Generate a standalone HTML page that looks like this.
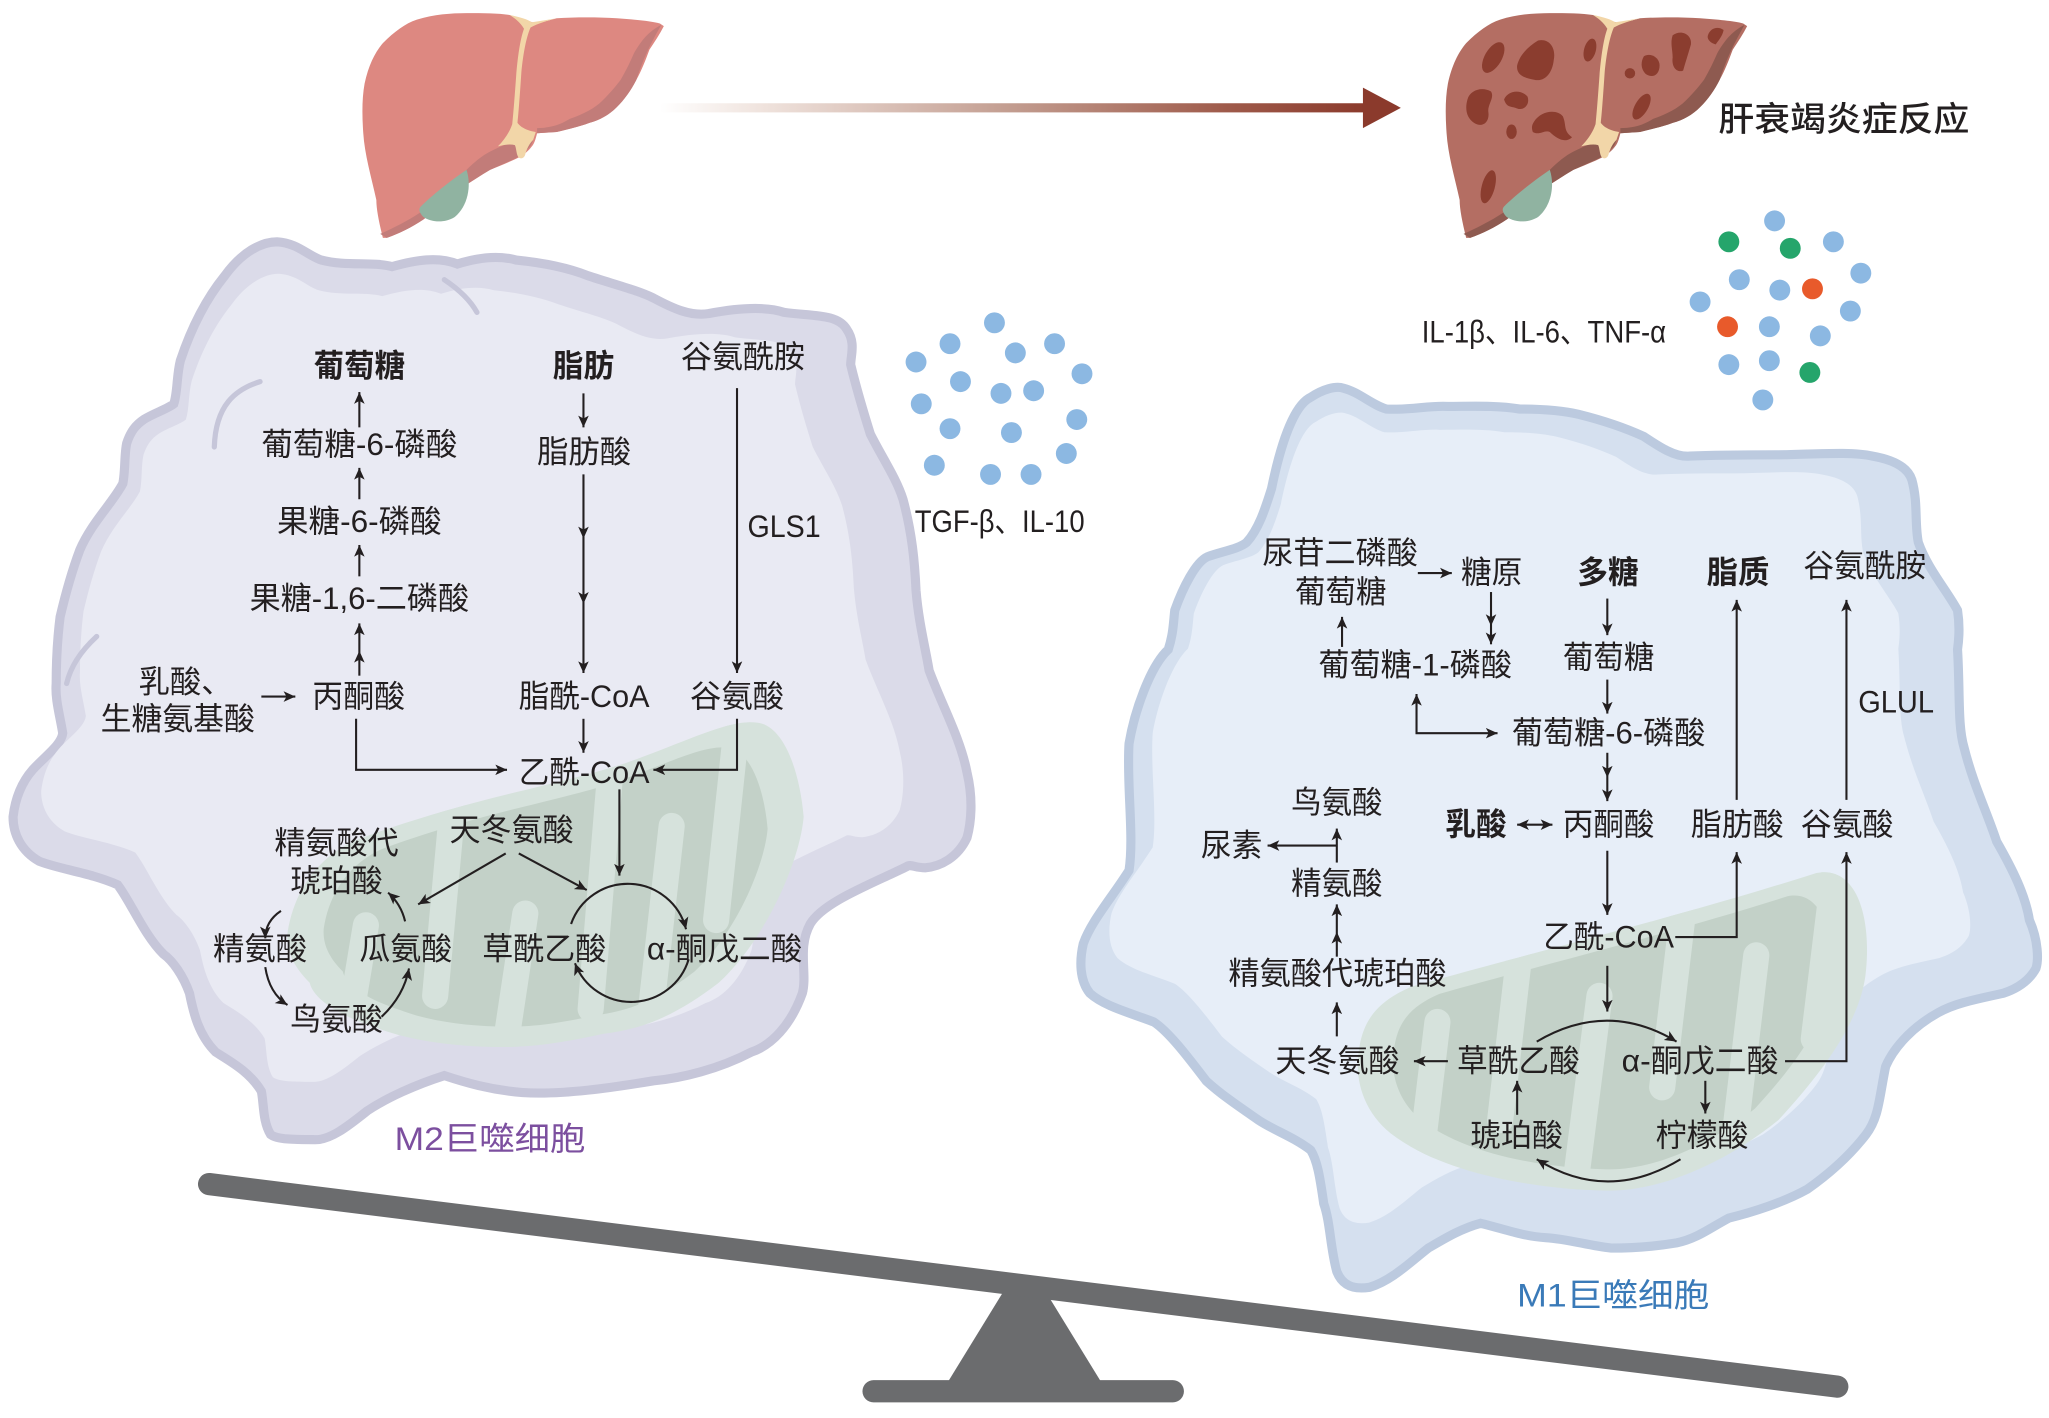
<!DOCTYPE html>
<html><head><meta charset="utf-8"><style>
html,body{margin:0;padding:0;background:#fff;}
svg{display:block;}
.t{font-family:"Liberation Sans","Noto Sans CJK SC",sans-serif;font-size:24px;fill:#231f20;dominant-baseline:central;}
.b{font-weight:bold;}
.ln{fill:none;stroke:#231f20;stroke-width:1.6;}
</style></head><body>
<svg width="2049" height="1418" viewBox="0 0 1568 1085" preserveAspectRatio="none" xmlns="http://www.w3.org/2000/svg">
<defs>
<marker id="ah" viewBox="0 0 10 10" refX="10" refY="5" markerWidth="9" markerHeight="9" orient="auto-start-reverse" markerUnits="userSpaceOnUse"><path d="M0,0.5 L10,5 L0,9.5 L2.5,5 Z" fill="#231f20"/></marker>
<linearGradient id="ga" x1="505" y1="0" x2="1045" y2="0" gradientUnits="userSpaceOnUse">
<stop offset="0" stop-color="#ffffff"/><stop offset="0.15" stop-color="#efe2dc"/><stop offset="0.5" stop-color="#c29c8f"/><stop offset="0.8" stop-color="#9f5b4b"/><stop offset="1" stop-color="#8b3a2c"/>
</linearGradient>
<path id="liver" d="M293,182 C290,170 288,160 288,153 C284,135 279,118 278,102 C277,88 277,75 279,64 C282,50 287,40 293,33 C302,24 310,18 319,15 C332,11 345,10 357,10 C370,10 382,10 390,11.5 L400,15 L411,18 L426,14 C440,13 458,13 472,14 C485,15 498,16 505,18 L508,20 C505,26 501,32 497,38 C494,46 491,54 487,61 C483,69 478,76 472,82 C466,88 459,92 451,94 C443,97 434,99 426,101 L411,102 C410,106 409,110 407,112 C404,116 401,118 398,120 C390,124 382,127 375,130 C368,134 361,139 354,143 C350,146 347,150 344,153 C337,158 330,163 324,168 C315,174 305,179 296,182 Z"/>
<path id="ldark1" d="M506,19 C500,30 494,40 487,61 C483,69 478,76 472,82 C466,88 459,92 451,94 C443,97 434,99 426,101 L411,102 L411,98 C420,98 428,96 436,91 C447,87 455,83 461,77 C468,70 472,65 475,61 C479,54 482,48 485,41 C490,32 496,24 506,19 Z"/>
<path id="ldark2" d="M291,179 C300,175 312,169 321,163 C335,152 347,140 357,130 C363,124 369,119 375,116 C383,112 390,109 396,107 L408,107 C407,110 406,112 405,113 C401,117 398,119 395,121 L375,130 C368,134 361,139 354,143 C350,146 347,150 344,153 C337,158 330,163 324,168 C315,174 305,179 296,182 Z"/>
<path id="lig" d="M390,11.5 C398,13 404,15 407,17 C414,16 420,15 426,14 C418,16 412,18 406,21 C402,30 400,45 399,55 C398,70 397,85 396,94 C399,98 404,100 410,101 L408,107 C405,110 403,114 402,118 C401,122 397,122 396,119 C395,116 395,113 394,111 C390,110 385,111 381,112 C386,107 390,101 392,95 C393,85 394,72 395,58 C396,45 398,30 401,22 C398,17 394,14 390,11.5 Z"/>
<path id="gall" d="M357,130 C361,142 358,158 348,166 C340,171 330,170 324,166 C321,163 320,160 322,158 C330,150 345,138 357,130 Z"/>
<path id="lcell" d="M172,211 C185,193 200,185 212,185 C228,186 236,196 246,199 C265,204 285,200 300,204 C318,199 335,196 350,202 C366,197 381,195 395,199 C415,201 435,205 450,211 C468,217 488,222 500,228 C515,236 528,242 542,240 C563,236 585,234 600,239 C622,242 641,240 648,252 C655,262 651,272 651,279 C656,300 661,316 666,332 C675,350 686,366 691,382 C698,408 700,430 701,452 C703,476 708,495 711,513 C721,540 735,565 740,591 C745,612 743,630 740,641 C733,656 720,663 708,664 C700,664 697,661 694,663 C668,676 630,690 620,707 C610,725 618,745 614,760 C605,785 590,800 575,805 C550,818 522,825 500,827 C470,832 430,838 400,836 C375,834 355,828 340,823 C318,830 296,840 281,850 C266,862 252,873 240,872 C226,872 212,872 207,868 C201,858 202,845 200,835 C191,820 176,812 165,805 C152,792 148,775 145,760 C140,746 132,735 125,730 C110,715 100,690 90,677 C70,668 45,665 30,659 C16,651 10,638 10,625 C12,608 18,597 25,589 C35,578 47,570 48,561 C46,548 42,535 43,523 C43,505 44,488 46,472 C50,455 55,437 61,421 C70,400 86,385 94,370 C96,360 95,348 97,339 C100,330 104,325 110,321 C118,316 128,313 133,309 C136,300 135,288 138,276 C145,255 155,232 172,211 Z"/>
<path id="rcell" d="M973,374 C980,340 990,310 1003,304 C1012,298 1022,295 1028,297 C1040,300 1050,310 1061,313 C1078,314 1095,310 1108,311 C1125,311 1145,310 1163,313 C1180,313 1195,314 1208,317 C1228,322 1245,328 1258,334 C1270,342 1282,350 1293,349 C1315,348 1338,348 1358,348 C1385,348 1415,345 1433,349 C1450,352 1460,358 1463,367 C1468,385 1465,400 1468,415 C1475,435 1490,452 1498,467 C1500,480 1499,490 1498,497 C1500,530 1498,555 1503,572 C1510,600 1520,620 1528,644 C1540,665 1550,685 1553,704 C1560,720 1560,735 1558,741 C1552,752 1542,757 1533,760 C1510,765 1495,768 1483,775 C1465,785 1450,800 1443,816 C1438,840 1438,855 1428,868 C1415,885 1400,898 1383,910 C1365,920 1340,928 1323,932 C1308,940 1298,948 1283,951 C1265,954 1250,955 1233,955 C1215,953 1200,948 1183,947 C1165,946 1150,940 1133,936 C1118,940 1105,948 1093,955 C1080,965 1065,980 1048,985 C1035,987 1027,983 1023,973 C1018,955 1018,935 1013,921 C1010,900 1008,888 1003,880 C990,870 975,865 963,857 C950,848 935,838 923,827 C910,810 895,790 883,782 C865,775 845,770 834,760 C826,750 826,735 829,722 C835,705 850,688 864,666 C868,640 862,600 864,569 C868,545 880,510 894,497 C898,485 898,475 899,467 C905,450 915,430 924,426 C935,422 948,420 954,415 C963,405 968,390 973,374 Z"/>
<path id="lmito" d="M220,714 C225,680 245,655 272,643 C320,625 370,612 404,604 C440,595 470,588 492,579 C530,565 560,550 580,553 C600,556 612,590 615,625 C612,660 585,720 550,752 C520,775 495,787 462,791 C430,798 405,802 375,801 C340,800 310,795 287,786 C260,777 240,765 237,752 C225,740 219,728 220,714 Z"/>
<path id="rmito" d="M1039,815 C1040,785 1050,768 1080,755 C1150,735 1290,700 1390,668 C1420,662 1432,700 1428,742 C1425,780 1395,820 1361,857 C1320,890 1270,912 1229,911 C1180,910 1110,900 1068,870 C1048,856 1039,835 1039,815 Z"/>
<clipPath id="clm"><use href="#lmito"/></clipPath>
<clipPath id="crm"><use href="#rmito"/></clipPath>
</defs>

<!-- Healthy liver -->
<use href="#liver" fill="#dd8881"/>
<use href="#ldark1" fill="#c27c79"/>
<use href="#ldark2" fill="#c27c79"/>
<use href="#lig" fill="#f2d6a8"/>
<use href="#gall" fill="#90b3a1"/>

<!-- Diseased liver -->
<g transform="translate(829,0)">
<use href="#liver" fill="#b46e63"/>
<use href="#ldark1" fill="#8e5a50"/>
<use href="#ldark2" fill="#8e5a50"/>
<use href="#lig" fill="#f2d6a8"/>
<use href="#gall" fill="#90b3a1"/>
<g fill="#8b3d2f">
<ellipse cx="313.7" cy="44" rx="6.5" ry="13" transform="rotate(30 313.7 44)"/>
<path d="M332,50 C334,42 340,36 348,31 C356,29 362,36 360,46 C359,56 353,63 345,61 C339,60 331,58 332,50 Z"/>
<ellipse cx="387.7" cy="38.3" rx="4.5" ry="9" transform="rotate(15 387.7 38.3)"/>
<path d="M294,76 C296,69 305,66 312,70 C315,75 309,80 310,86 C311,94 305,98 299,94 C293,90 292,83 294,76 Z"/>
<path d="M322,76 C325,69 335,68 340,74 C342,80 337,85 332,83 C328,81 324,83 322,76 Z"/>
<path d="M345,93 C350,85 362,83 367,89 C370,96 367,100 374,105 C369,110 362,106 357,101 C353,99 349,104 344,101 C343,98 343,96 345,93 Z"/>
<ellipse cx="327.7" cy="100.8" rx="4" ry="5.5"/>
<ellipse cx="309.9" cy="142.9" rx="5" ry="13" transform="rotate(15 309.9 142.9)"/>
<circle cx="418.3" cy="56.1" r="4"/>
<path d="M429,43 C434,40 441,44 441,50 C441,57 436,60 431,57 C427,54 426,48 429,43 Z"/>
<path d="M451,27 C458,22 466,27 465,34 C463,41 461,47 459,54 C454,56 450,51 451,44 C451,38 449,33 451,27 Z"/>
<path d="M478,27 C480,21 486,20 490,23 C489,28 486,31 484,34 C480,33 477,30 478,27 Z"/>
<ellipse cx="427.2" cy="81.6" rx="5" ry="11" transform="rotate(30 427.2 81.6)"/>
</g>
</g>

<!-- gradient arrow -->
<rect x="505" y="79" width="540" height="7" fill="url(#ga)"/>
<polygon points="1043,67 1072,82.5 1043,98" fill="#8b3a2c"/>

<text class="t" x="1315" y="92" textLength="192" lengthAdjust="spacingAndGlyphs" style="font-size:26px;font-weight:500">肝衰竭炎症反应</text>

<!-- cytokine dots left -->
<g fill="#8cb8e2">
<circle cx="761" cy="247" r="8"/><circle cx="727" cy="263" r="8"/><circle cx="777" cy="270" r="8"/><circle cx="807" cy="263" r="8"/>
<circle cx="701" cy="277" r="8"/><circle cx="828" cy="286" r="8"/><circle cx="735" cy="292" r="8"/><circle cx="766" cy="301" r="8"/>
<circle cx="791" cy="299" r="8"/><circle cx="705" cy="309" r="8"/><circle cx="824" cy="321" r="8"/><circle cx="727" cy="328" r="8"/>
<circle cx="774" cy="331" r="8"/><circle cx="816" cy="347" r="8"/><circle cx="715" cy="356" r="8"/><circle cx="758" cy="363" r="8"/><circle cx="789" cy="363" r="8"/>
</g>
<text class="t" x="700" y="399" textLength="130" lengthAdjust="spacingAndGlyphs">TGF-β、IL-10</text>

<!-- cytokine dots right -->
<g fill="#8cb8e2">
<circle cx="1358" cy="169" r="8"/><circle cx="1403" cy="185" r="8"/><circle cx="1424" cy="209" r="8"/><circle cx="1331" cy="214" r="8"/>
<circle cx="1362" cy="222" r="8"/><circle cx="1416" cy="238" r="8"/><circle cx="1301" cy="231" r="8"/><circle cx="1354" cy="250" r="8"/>
<circle cx="1393" cy="257" r="8"/><circle cx="1323" cy="279" r="8"/><circle cx="1354" cy="276" r="8"/><circle cx="1349" cy="306" r="8"/>
</g>
<g fill="#25a56b"><circle cx="1323" cy="185" r="8"/><circle cx="1370" cy="190" r="8"/><circle cx="1385" cy="285" r="8"/></g>
<g fill="#e85a2b"><circle cx="1387" cy="221" r="8"/><circle cx="1322" cy="250" r="8"/></g>
<text class="t" x="1088" y="254" textLength="187" lengthAdjust="spacingAndGlyphs">IL-1β、IL-6、TNF-α</text>

<!-- Left cell -->
<use href="#lcell" fill="#dbdbe9" stroke="#c6c6d9" stroke-width="7"/>
<use href="#lcell" fill="#e9eaf3" transform="translate(360,520) scale(0.9) translate(-375,-530)"/>
<path d="M199,292 C180,298 165,310 164,342" fill="none" stroke="#c6c6d9" stroke-width="4" stroke-linecap="round"/>
<path d="M74,487 C62,498 54,510 51,523" fill="none" stroke="#c6c6d9" stroke-width="4" stroke-linecap="round"/>
<path d="M340,214 C352,222 360,230 365,239" fill="none" stroke="#c6c6d9" stroke-width="4" stroke-linecap="round"/>

<!-- Right cell -->
<use href="#rcell" fill="#d5e0ef" stroke="#bccadf" stroke-width="7"/>
<use href="#rcell" fill="#e7eef8" transform="translate(1180,625) scale(0.9) translate(-1195,-640)"/>

<!-- Left mito -->
<use href="#lmito" fill="#d6e2dc"/>
<use href="#lmito" fill="#c3d1c8" transform="translate(418,690) scale(0.86) translate(-418,-690)"/>
<g clip-path="url(#clm)" stroke="#d6e2dc" stroke-width="20" stroke-linecap="round" fill="none">
<path d="M258,840 L280,708"/>
<path d="M352,555 L333,762"/>
<path d="M380,845 L402,699"/>
<path d="M470,555 L452,772"/>
<path d="M490,845 L514,632"/>
<path d="M566,535 L548,704"/>
</g>

<!-- Right mito -->
<use href="#rmito" fill="#d6e2dc"/>
<use href="#rmito" fill="#c3d1c8" transform="translate(1232,795) scale(0.86) translate(-1232,-795)"/>
<g clip-path="url(#crm)" stroke="#d6e2dc" stroke-width="20" stroke-linecap="round" fill="none">
<path d="M1078,965 L1100,782"/>
<path d="M1172,650 L1148,857"/>
<path d="M1198,965 L1224,762"/>
<path d="M1296,630 L1272,832"/>
<path d="M1316,965 L1344,731"/>
<path d="M1410,615 L1388,795"/>
</g>

<!-- Left cell connectors -->
<g class="ln" marker-end="url(#ah)">
<line x1="275" y1="327" x2="275" y2="300"/>
<line x1="275" y1="382" x2="275" y2="358"/>
<line x1="275" y1="441" x2="275" y2="417"/>
<polyline points="275,517 275,498 275,477" marker-mid="url(#ah)"/>
<line x1="446.5" y1="301" x2="446.5" y2="327"/>
<polyline points="446.5,363 446.5,412 446.5,462 446.5,515" marker-mid="url(#ah)"/>
<line x1="564" y1="297" x2="564" y2="515"/>
<line x1="200" y1="533" x2="226" y2="533"/>
<polyline points="272.5,550 272.5,589 388,589"/>
<line x1="446.5" y1="550" x2="446.5" y2="576"/>
<polyline points="564,550 564,589 500,589"/>
<line x1="474" y1="604" x2="474" y2="670"/>
<line x1="387" y1="653" x2="320" y2="692"/>
<line x1="397" y1="653" x2="449" y2="681"/>
<path d="M437,707 A46,46 0 0 1 525,711"/>
<path d="M527,734 A46,46 0 0 1 440,737"/>
<path d="M215,697 Q203,705 203,718"/>
<path d="M203,740 Q206,760 220,769"/>
<path d="M292,778 Q309,762 313,741"/>
<path d="M310,705 Q307,692 297,683"/>
</g>

<!-- Right cell connectors -->
<g class="ln" marker-end="url(#ah)">
<line x1="1085" y1="438.5" x2="1111" y2="438.5"/>
<polyline points="1141,453 1141,479 1141,493" marker-mid="url(#ah)"/>
<line x1="1027" y1="495" x2="1027" y2="472"/>
<line x1="1230" y1="458" x2="1230" y2="486"/>
<line x1="1230" y1="520" x2="1230" y2="546"/>
<path d="M1084,531 L1084,561 L1146,561" marker-start="url(#ah)"/>
<polyline points="1230,576 1230,595 1230,613" marker-mid="url(#ah)"/>
<line x1="1161" y1="631" x2="1188" y2="631" marker-start="url(#ah)"/>
<line x1="1230" y1="651" x2="1230" y2="700"/>
<polyline points="1282,717 1329,717 1329,652"/>
<line x1="1329" y1="612" x2="1329" y2="459"/>
<line x1="1413" y1="612" x2="1413" y2="459"/>
<polyline points="1366,812 1413,812 1413,652"/>
<line x1="1230" y1="739" x2="1230" y2="774"/>
<path d="M1176,797 Q1230,765 1283,797"/>
<line x1="1108" y1="812" x2="1082" y2="812"/>
<line x1="1023" y1="793" x2="1023" y2="767"/>
<polyline points="1023,732 1023,713 1023,692" marker-mid="url(#ah)"/>
<line x1="1023" y1="660" x2="1023" y2="634"/>
<polyline points="1023,647 970,647" marker-end="url(#ah)"/>
<line x1="1305" y1="827" x2="1305" y2="852"/>
<line x1="1161" y1="853" x2="1161" y2="827"/>
<path d="M1286,887 Q1230,921 1176,887"/>
</g>

<!-- Left cell labels -->
<text class="t b" x="240" y="280" textLength="70" lengthAdjust="spacingAndGlyphs">葡萄糖</text>
<text class="t" x="200" y="340" textLength="150" lengthAdjust="spacingAndGlyphs">葡萄糖-6-磷酸</text>
<text class="t" x="212" y="399" textLength="126" lengthAdjust="spacingAndGlyphs">果糖-6-磷酸</text>
<text class="t" x="191" y="458" textLength="168" lengthAdjust="spacingAndGlyphs">果糖-1,6-二磷酸</text>
<text class="t" x="106" y="522">乳酸、</text>
<text class="t" x="77" y="550" textLength="118" lengthAdjust="spacingAndGlyphs">生糖氨基酸</text>
<text class="t" x="239" y="533" textLength="71" lengthAdjust="spacingAndGlyphs">丙酮酸</text>
<text class="t b" x="423" y="280" textLength="47" lengthAdjust="spacingAndGlyphs">脂肪</text>
<text class="t" x="411" y="346" textLength="72" lengthAdjust="spacingAndGlyphs">脂肪酸</text>
<text class="t" x="397" y="533" textLength="100" lengthAdjust="spacingAndGlyphs">脂酰-CoA</text>
<text class="t" x="521" y="273" textLength="95" lengthAdjust="spacingAndGlyphs">谷氨酰胺</text>
<text class="t" x="572" y="403" textLength="56" lengthAdjust="spacingAndGlyphs">GLS1</text>
<text class="t" x="528" y="533" textLength="72" lengthAdjust="spacingAndGlyphs">谷氨酸</text>
<text class="t" x="397" y="591" textLength="100" lengthAdjust="spacingAndGlyphs">乙酰-CoA</text>
<text class="t" x="344" y="635" textLength="95" lengthAdjust="spacingAndGlyphs">天冬氨酸</text>
<text class="t" x="210" y="645" textLength="95" lengthAdjust="spacingAndGlyphs">精氨酸代</text>
<text class="t" x="222" y="674" textLength="71" lengthAdjust="spacingAndGlyphs">琥珀酸</text>
<text class="t" x="163" y="726" textLength="72" lengthAdjust="spacingAndGlyphs">精氨酸</text>
<text class="t" x="275" y="726" textLength="71" lengthAdjust="spacingAndGlyphs">瓜氨酸</text>
<text class="t" x="369" y="726" textLength="95" lengthAdjust="spacingAndGlyphs">草酰乙酸</text>
<text class="t" x="495" y="726" textLength="119" lengthAdjust="spacingAndGlyphs">α-酮戊二酸</text>
<text class="t" x="222" y="780" textLength="71" lengthAdjust="spacingAndGlyphs">鸟氨酸</text>
<text class="t" x="302" y="871" textLength="146" lengthAdjust="spacingAndGlyphs" style="font-size:25px;fill:#7c4f9f">M2巨噬细胞</text>

<!-- Right cell labels -->
<text class="t" x="966" y="423" textLength="119" lengthAdjust="spacingAndGlyphs">尿苷二磷酸</text>
<text class="t" x="991" y="453" textLength="70" lengthAdjust="spacingAndGlyphs">葡萄糖</text>
<text class="t" x="1118" y="438" textLength="47" lengthAdjust="spacingAndGlyphs">糖原</text>
<text class="t b" x="1207" y="438" textLength="47" lengthAdjust="spacingAndGlyphs">多糖</text>
<text class="t b" x="1306" y="438" textLength="48" lengthAdjust="spacingAndGlyphs">脂质</text>
<text class="t" x="1380" y="433" textLength="94" lengthAdjust="spacingAndGlyphs">谷氨酰胺</text>
<text class="t" x="1009" y="509" textLength="148" lengthAdjust="spacingAndGlyphs">葡萄糖-1-磷酸</text>
<text class="t" x="1196" y="503" textLength="70" lengthAdjust="spacingAndGlyphs">葡萄糖</text>
<text class="t" x="1157" y="561" textLength="148" lengthAdjust="spacingAndGlyphs">葡萄糖-6-磷酸</text>
<text class="t" x="1422" y="537" textLength="58" lengthAdjust="spacingAndGlyphs">GLUL</text>
<text class="t" x="988" y="614" textLength="70" lengthAdjust="spacingAndGlyphs">鸟氨酸</text>
<text class="t" x="919" y="647" textLength="47" lengthAdjust="spacingAndGlyphs">尿素</text>
<text class="t" x="988" y="676" textLength="70" lengthAdjust="spacingAndGlyphs">精氨酸</text>
<text class="t b" x="1106" y="631" textLength="47" lengthAdjust="spacingAndGlyphs">乳酸</text>
<text class="t" x="1196" y="631" textLength="70" lengthAdjust="spacingAndGlyphs">丙酮酸</text>
<text class="t" x="1294" y="631" textLength="71" lengthAdjust="spacingAndGlyphs">脂肪酸</text>
<text class="t" x="1378" y="631" textLength="71" lengthAdjust="spacingAndGlyphs">谷氨酸</text>
<text class="t" x="1181" y="717" textLength="100" lengthAdjust="spacingAndGlyphs">乙酰-CoA</text>
<text class="t" x="940" y="745" textLength="167" lengthAdjust="spacingAndGlyphs">精氨酸代琥珀酸</text>
<text class="t" x="976" y="812" textLength="95" lengthAdjust="spacingAndGlyphs">天冬氨酸</text>
<text class="t" x="1115" y="812" textLength="94" lengthAdjust="spacingAndGlyphs">草酰乙酸</text>
<text class="t" x="1241" y="812" textLength="120" lengthAdjust="spacingAndGlyphs">α-酮戊二酸</text>
<text class="t" x="1125" y="869" textLength="71" lengthAdjust="spacingAndGlyphs">琥珀酸</text>
<text class="t" x="1267" y="869" textLength="71" lengthAdjust="spacingAndGlyphs">柠檬酸</text>
<text class="t" x="1161" y="991" textLength="147" lengthAdjust="spacingAndGlyphs" style="font-size:25px;fill:#3a7ab8">M1巨噬细胞</text>

<!-- Seesaw -->
<polygon points="768,988 800,988 843,1058 725,1058" fill="#6b6c6e"/>
<line x1="160" y1="906" x2="1406" y2="1061" stroke="#6b6c6e" stroke-width="17" stroke-linecap="round"/>
<rect x="660" y="1056" width="246" height="17" rx="8.5" fill="#6b6c6e"/>
</svg>
</body></html>
